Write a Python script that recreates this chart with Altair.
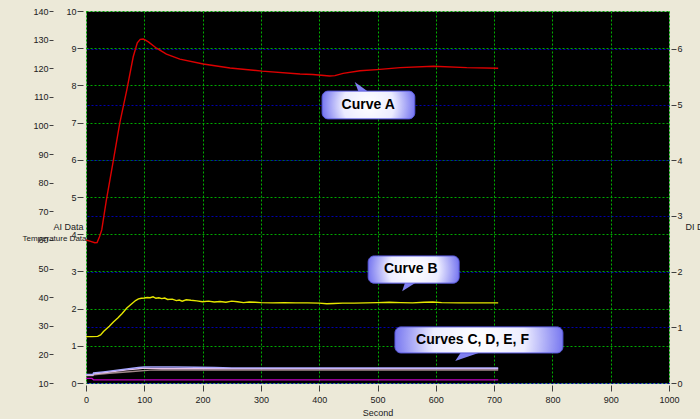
import altair as alt
import pandas as pd

# ---------------- data ----------------
x_ticks = [0, 100, 200, 300, 400, 500, 600, 700, 800, 900, 1000]
temp_ticks = [10, 20, 30, 40, 50, 60, 70, 80, 90, 100, 110, 120, 130, 140]
ai_ticks = [0, 1, 2, 3, 4, 5, 6, 7, 8, 9, 10]
di_ticks = [0, 1, 2, 3, 4, 5, 6]

a_sec = [0, 8, 15, 19, 23, 27, 35, 47, 58, 70, 81, 88, 93, 98, 102, 107, 121, 138, 161,
         201, 247, 302, 367, 389, 418, 427, 441, 470, 499, 539, 596, 653, 707]
a_val = [60.0, 59.5, 59.0, 59.1, 61.0, 63.5, 74.0, 87.9, 100.9, 112.4, 124.0, 128.9, 130.1,
         130.2, 129.8, 129.2, 127.0, 124.9, 123.2, 121.5, 120.1, 119.0, 118.0, 117.8, 117.3,
         117.4, 118.2, 119.1, 119.5, 120.2, 120.7, 120.2, 120.0]

b_sec = [0, 10, 20, 25, 30, 40, 47, 55, 62, 70, 78, 85, 90, 95, 100, 105, 110, 115, 120, 125,
         130, 135, 140, 148, 155, 160, 165, 172, 180, 190, 200, 210, 220, 230, 240, 250, 260,
         270, 280, 290, 300, 320, 340, 360, 380, 400, 413, 425, 440, 460, 480, 500, 520, 540,
         560, 580, 595, 610, 640, 670, 707]
b_val = [26.2, 26.2, 26.3, 26.8, 28.0, 29.8, 31.3, 32.8, 34.3, 36.2, 37.6, 38.8, 39.4, 39.6,
         39.7, 39.9, 39.8, 40.1, 39.6, 39.8, 39.5, 39.7, 39.2, 39.3, 38.8, 39.0, 38.6, 39.1,
         38.9, 38.7, 38.4, 38.6, 38.3, 38.5, 38.2, 38.6, 38.4, 38.1, 38.3, 38.2, 38.1, 38.0,
         38.1, 38.0, 38.0, 37.9, 37.7, 37.8, 37.9, 37.9, 38.0, 38.1, 38.2, 38.1, 38.0, 38.2,
         38.3, 38.1, 38.0, 38.0, 38.0]

c_sec = [0, 12, 13, 30, 50, 70, 90, 100, 120, 150, 190, 220, 250, 300, 400, 500, 600, 707]
c_val = [13.0, 13.0, 13.5, 13.9, 14.4, 14.9, 15.4, 15.6, 15.6, 15.6, 15.5, 15.4, 15.3, 15.3,
         15.3, 15.3, 15.3, 15.3]

d_sec = [0, 12, 13, 30, 50, 70, 90, 100, 110, 130, 707]
d_val = [12.8, 12.8, 13.2, 13.6, 14.1, 14.6, 15.0, 15.2, 15.1, 15.0, 15.0]

e_sec = [0, 12, 13, 40, 80, 110, 707]
e_val = [12.6, 12.6, 12.9, 13.4, 14.0, 14.5, 14.5]

f_sec = [0, 10, 13, 707]
f_val = [11.6, 11.6, 11.1, 11.1]

curve_names = ["E", "D", "C", "F", "B", "A"]
curve_colors = ["#a08888", "#e8c0e8", "#a8a8ff", "#c000c0", "#e6e600", "#dd0000"]

callout_labels = ["Curve A", "Curve B", "Curves C, D, E, F"]
box_x1 = [405, 484, 530]
box_x2 = [564, 640, 818]
box_y1 = [102.3, 44.9, 20.5]
box_y2 = [112.0, 54.4, 29.6]
text_x = [484, 557, 663]
text_y = [107.2, 49.8, 25.0]
ptr_x = [473, 556, 659]
ptr_y = [112.0, 44.9, 20.5]
ptr_path = ["M-0.7,-0.9 L1.1,0.4 L-0.2,0.4 Z",
            "M-0.8,0.8 L-0.4,-0.4 L1.1,-0.4 Z",
            "M-1.5,0.8 L-0.7,-0.4 L2.0,-0.4 Z"]

# ---------------- tables ----------------
series = {"A": (a_sec, a_val), "B": (b_sec, b_val), "C": (c_sec, c_val),
          "D": (d_sec, d_val), "E": (e_sec, e_val), "F": (f_sec, f_val)}
rows = []
for name in curve_names:
    s, v = series[name]
    for t, y in zip(s, v):
        rows.append({"t": t, "v": y, "curve": name})
lines_df = pd.DataFrame(rows)

callouts = pd.DataFrame({
    "label": callout_labels, "x1": box_x1, "x2": box_x2, "y1": box_y1, "y2": box_y2,
    "tx": text_x, "ty": text_y, "px": ptr_x, "py": ptr_y, "path": ptr_path,
})

FONT = "Liberation Sans"

x_scale = alt.Scale(domain=[0, 1000], nice=False, zero=False)
x_axis = alt.Axis(values=x_ticks, format="d", grid=True, gridColor="#00b000", gridDash=[2, 2],
                  domain=False, tickSize=6, tickColor="#404040", offset=2,
                  labelPadding=4, labelFontSize=9, labelFlush=False, labelOverlap=False,
                  title="Second", titleFontSize=9, titleFontWeight="normal",
                  titleY=27, titleBaseline="middle")

t_scale = alt.Scale(domain=[10, 140], nice=False, zero=False)
t_axis = alt.Axis(orient="left", offset=33, values=temp_ticks, grid=False, domain=False,
                  tickSize=4, tickColor="#404040", labelPadding=1, labelFontSize=9,
                  labelFlush=False, labelOverlap=False,
                  title="Temperature Data", titleAngle=0, titleAlign="right",
                  titleX=33, titleY=227, titleBaseline="middle", titleFontSize=8,
                  titleFontWeight="normal")


def X(field):
    return alt.X(field, scale=x_scale, axis=x_axis)


def Y(field):
    return alt.Y(field, scale=t_scale, axis=t_axis)


lines = alt.Chart(lines_df).mark_line(strokeWidth=1.4, clip=True).encode(
    x=X("t:Q"), y=Y("v:Q"),
    color=alt.Color("curve:N", scale=alt.Scale(domain=curve_names, range=curve_colors),
                    legend=None),
    order=alt.Order("t:Q"),
)

pointers = alt.Chart(callouts).mark_point(filled=True, size=400, opacity=1,
                                          fill="#8080f0", strokeWidth=0).encode(
    x=X("px:Q"), y=Y("py:Q"), shape=alt.Shape("path:N", scale=None),
)

box_fill = {"gradient": "radial",
            "stops": [{"offset": 0, "color": "#ffffff"},
                      {"offset": 0.55, "color": "#ececff"},
                      {"offset": 1, "color": "#7878f0"}]}
boxes = alt.Chart(callouts).mark_rect(cornerRadius=6, fill=box_fill, stroke="#5a5ae0",
                                      strokeWidth=1).encode(
    x=X("x1:Q"), x2="x2:Q", y=Y("y1:Q"), y2="y2:Q",
)

texts = alt.Chart(callouts).mark_text(font=FONT, fontSize=14, fontWeight="bold",
                                      color="#000000", baseline="middle",
                                      align="center").encode(
    x=X("tx:Q"), y=Y("ty:Q"), text="label:N",
)

temp_layer = alt.layer(lines, pointers, boxes, texts)

ai_df = pd.DataFrame({"ai": ai_ticks})
ai_layer = alt.Chart(ai_df).mark_point(opacity=0).encode(
    x=alt.value(0),
    y=alt.Y("ai:Q", scale=alt.Scale(domain=[0, 10], nice=False, zero=False),
            axis=alt.Axis(orient="left", offset=3, values=ai_ticks, grid=True,
                          gridColor="#00a800", gridDash=[2, 2], domain=False, tickSize=6,
                          tickColor="#404040", labelPadding=1, labelFontSize=9,
                          labelFlush=False, labelOverlap=False,
                          title="AI Data", titleAngle=0, titleAlign="right", titleX=0,
                          titleY=215, titleBaseline="middle", titleFontSize=9,
                          titleFontWeight="normal")),
)

di_df = pd.DataFrame({"di": di_ticks})
di_layer = alt.Chart(di_df).mark_point(opacity=0).encode(
    x=alt.value(0),
    y=alt.Y("di:Q", scale=alt.Scale(domain=[0, 6.68], nice=False, zero=False),
            axis=alt.Axis(orient="right", offset=2, values=di_ticks, grid=True,
                          gridColor="#0000b0", gridDash=[2, 2], domain=False, tickSize=5,
                          tickColor="#404040", labelPadding=1, labelFontSize=9,
                          labelFlush=False, labelOverlap=False,
                          title="DI Data", titleAngle=0, titleAlign="left", titleX=14,
                          titleY=215, titleBaseline="middle", titleFontSize=9,
                          titleFontWeight="normal")),
)

chart = alt.layer(ai_layer, di_layer, temp_layer).resolve_scale(
    y="independent"
).properties(
    width=583, height=372, background="#ECE9D8",
    padding={"left": 86, "top": 11, "right": 31, "bottom": 36},
    autosize=alt.AutoSizeParams(type="none"),
).configure_view(
    fill="#000000", stroke="#a0a0a0", strokeWidth=1,
).configure_axis(
    labelFont=FONT, titleFont=FONT, labelColor="#202020", titleColor="#202020",
)

chart.save("out.html", embed_options={"renderer": "svg", "actions": False})
